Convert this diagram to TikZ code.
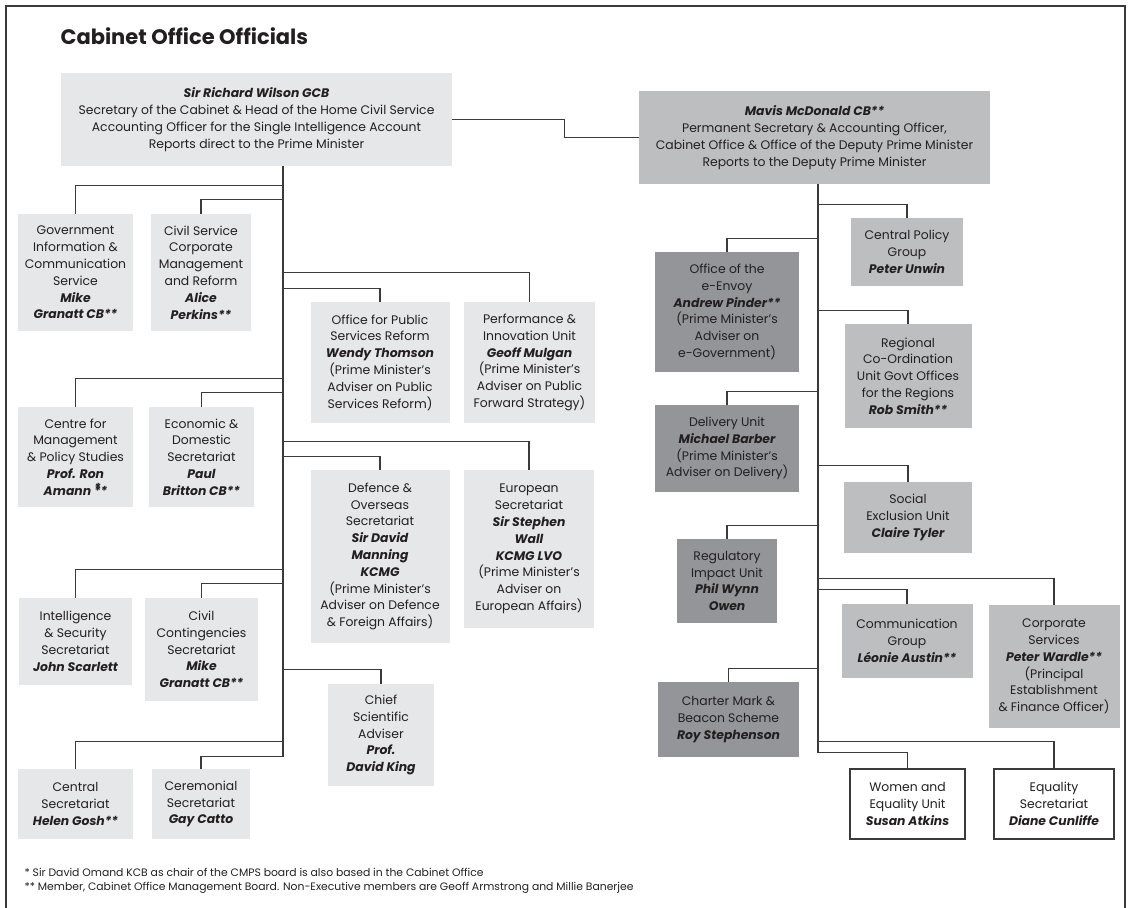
\documentclass[tikz,border=0pt]{standalone}
\usepackage{fontspec}
\setmainfont{Poppins}
\usepackage{tikz}
\usetikzlibrary{calc}

\definecolor{paleGrey}{HTML}{E6E7E8}
\definecolor{midGrey}{HTML}{BCBEC0}
\definecolor{darkGrey}{HTML}{939598}
\definecolor{inkGrey}{HTML}{231F20}
\definecolor{lineGrey}{HTML}{3A3A3A}

\newcommand{\who}[1]{{\bfseries\itshape #1}}

\tikzset{
  unit/.style={align=center, inner sep=0pt, text=inkGrey,
    font=\fontsize{12.4}{16.8}\selectfont},
  size/.style 2 args={minimum width=#1pt, minimum height=#2pt},
  pale/.style={unit, fill=paleGrey},
  mid/.style={unit, fill=midGrey},
  dark/.style={unit, fill=darkGrey},
  plain/.style={unit, fill=white, draw=lineGrey, line width=1.1pt},
  link/.style={draw=lineGrey, line width=1.1pt},
}

\begin{document}
\begin{tikzpicture}[x=1pt, y=-1pt]
	\useasboundingbox (0,0) rectangle (1129,907);
	\draw[lineGrey, line width=1.2pt] (6,920) -- (6,6) -- (1125,6) -- (1125,920);
	\node (title) at (57,45) [anchor=base west, text=inkGrey, font=\fontsize{21}{24}\bfseries] {Cabinet Office Officials};

	% heads
	\node (rw) at (256.5,119.5) [pale, size={391}{93}] {\who{Sir Richard Wilson GCB}\\Secretary of the Cabinet \& Head of the Home Civil Service\\Accounting Officer for the Single Intelligence Account\\Reports direct to the Prime Minister};
	\node (mm) at (814.5,137.5) [mid, size={351}{93}] {\who{Mavis McDonald CB**}\\Permanent Secretary \& Accounting Officer,\\Cabinet Office \& Office of the Deputy Prime Minister\\Reports to the Deputy Prime Minister};
	\draw[link] (rw.east) -- ++(112,0) |- (mm.west);

	% units under the Secretary of the Cabinet
	\node (gics) at (75.5,272.5) [pale, size={115}{117}] {Government\\Information \&\\Communication\\Service\\\who{Mike}\\\who{Granatt CB**}};
	\node (cscm) at (201,272.5) [pale, size={100}{117}] {Civil Service\\Corporate\\Management\\and Reform\\\who{Alice}\\\who{Perkins**}};
	\node (opsr) at (380,362.5) [pale, size={139}{121}] {Office for Public\\Services Reform\\\who{Wendy Thomson}\\(Prime Minister's\\Adviser on Public\\Services Reform)};
	\node (piu) at (529.5,362.5) [pale, size={131}{121}] {Performance \&\\Innovation Unit\\\who{Geoff Mulgan}\\(Prime Minister's\\Adviser on Public\\Forward Strategy)};
	\node (cmps) at (75.5,457) [pale, size={115}{100}] {Centre for\\Management\\\& Policy Studies\\\who{Prof. Ron}\\\who{Amann \rlap{\raisebox{3pt}[0pt][0pt]{*}}**}};
	\node (eds) at (201.5,457) [pale, size={105}{100}] {Economic \&\\Domestic\\Secretariat\\\who{Paul}\\\who{Britton CB**}};
	\node (dos) at (380,556.5) [pale, size={139}{173}] {Defence \&\\Overseas\\Secretariat\\\who{Sir David}\\\who{Manning}\\\who{KCMG}\\(Prime Minister's\\Adviser on Defence\\\& Foreign Affairs)};
	\node (eus) at (529,549) [pale, size={130}{158}] {European\\Secretariat\\\who{Sir Stephen}\\\who{Wall}\\\who{KCMG LVO}\\(Prime Minister's\\Adviser on\\European Affairs)};
	\node (iss) at (75.5,641.5) [pale, size={113}{87}] {Intelligence\\\& Security\\Secretariat\\\who{John Scarlett}};
	\node (ccs) at (201.5,649.5) [pale, size={113}{103}] {Civil\\Contingencies\\Secretariat\\\who{Mike}\\\who{Granatt CB**}};
	\node (csa) at (381,735) [pale, size={106}{102}] {Chief\\Scientific\\Adviser\\\who{Prof.}\\\who{David King}};
	\node (cens) at (75.5,804) [pale, size={115}{70}] {Central\\Secretariat\\\who{Helen Gosh**}};
	\node (cers) at (201,804) [pale, size={98}{70}] {Ceremonial\\Secretariat\\\who{Gay Catto}};

	% units under the Permanent Secretary
	\node (cpg) at (907,252) [mid, size={112}{68}] {Central Policy\\Group\\\who{Peter Unwin}};
	\node (een) at (727,312) [dark, size={144}{120}] {Office of the\\e-Envoy\\\who{Andrew Pinder**}\\(Prime Minister's\\Adviser on\\e-Government)};
	\node (rcu) at (908,376) [mid, size={127}{104}] {Regional\\Co-Ordination\\Unit Govt Offices\\for the Regions\\\who{Rob Smith**}};
	\node (du) at (727,448.5) [dark, size={144}{87}] {Delivery Unit\\\who{Michael Barber}\\(Prime Minister's\\Adviser on Delivery)};
	\node (seu) at (908,517.5) [mid, size={128}{71}] {Social\\Exclusion Unit\\\who{Claire Tyler}};
	\node (riu) at (727,581) [dark, size={100}{84}] {Regulatory\\Impact Unit\\\who{Phil Wynn}\\\who{Owen}};
	\node (cg) at (907,641) [mid, size={131}{74}] {Communication\\Group\\\who{Léonie Austin**}};
	\node (cs) at (1054,666.5) [mid, size={131}{123}] {Corporate\\Services\\\who{Peter Wardle**}\\(Principal\\Establishment\\\& Finance Officer)};
	\node (cm) at (728.5,719.5) [dark, size={141}{75}] {Charter Mark \&\\Beacon Scheme\\\who{Roy Stephenson}};
	\node (weu) at (907.5,804) [plain, size={115}{70}] {Women and\\Equality Unit\\\who{Susan Atkins}};
	\node (es) at (1054,804) [plain, size={120}{70}] {Equality\\Secretariat\\\who{Diane Cunliffe}};

	% trunks and branches
	\coordinate (rtop) at (283,166);
	\coordinate (rbot) at ([yshift=12pt]cers.north -| rtop);
	\coordinate (mtop) at (818,184);
	\coordinate (mbot) at ([yshift=16pt]weu.north -| mtop);
	\draw[link] (rtop) -- (rbot) -| (cers.north);
	\draw[link] (mtop) -- (mbot) -| (weu.north);
	\foreach \n/\d in {gics/28, cscm/14, opsr/13, piu/29, cmps/28, eds/14, dos/13, eus/28, iss/28, ccs/14, csa/14, cens/27}
		\draw[link] (\n.north) |- ([yshift=\d pt]\n.north -| rtop);
	\foreach \n/\d in {cpg/13, een/13, rcu/13, du/13, seu/16, riu/13, cg/14, cs/26, cm/13, es/27}
		\draw[link] (\n.north) |- ([yshift=\d pt]\n.north -| mtop);

	% notes
	\node (fn1) at (21,876) [anchor=base west, text=inkGrey, font=\fontsize{10.8}{12}\selectfont] {* Sir David Omand KCB as chair of the CMPS board is also based in the Cabinet Office};
	\node (fn2) at (21,890) [anchor=base west, text=inkGrey, font=\fontsize{10.8}{12}\selectfont] {** Member, Cabinet Office Management Board. Non-Executive members are Geoff Armstrong and Millie Banerjee};
\end{tikzpicture}
\end{document}
